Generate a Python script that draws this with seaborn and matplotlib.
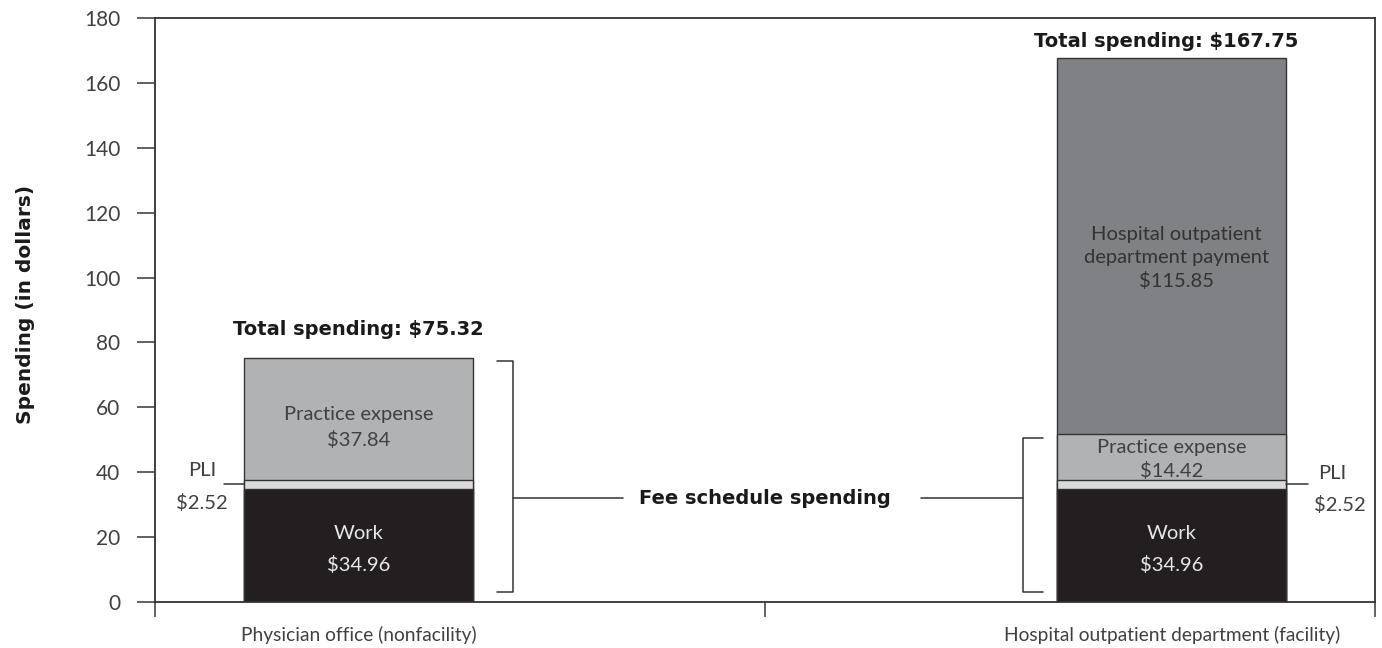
import pandas as pd
import matplotlib.pyplot as plt
import seaborn as sns

categories = ["Physician office (nonfacility)", "Hospital outpatient department (facility)"]
work = [34.96, 34.96]
pli = [2.52, 2.52]
practice = [37.84, 14.42]
hospital = [0.0, 115.85]
yticks = [0, 20, 40, 60, 80, 100, 120, 140, 160, 180]

segments = ["Work", "PLI", "Practice expense", "Hospital outpatient\ndepartment payment"]
seg_colors = ["#231f20", "#d9dadb", "#b1b2b4", "#808184"]

df = pd.DataFrame({"category": categories, "Work": work, "PLI": pli,
                   "Practice expense": practice,
                   "Hospital outpatient\ndepartment payment": hospital})
tops = df[segments].cumsum(axis=1)
totals = tops[segments[-1]]

sns.set_style("ticks")
plt.rcParams["font.family"] = ["Lato", "DejaVu Sans"]
dark = "#333333"
soft = "#404040"
heavy = dict(family="DejaVu Sans", fontweight="bold", color="#1a1a1a", fontsize=14)

fig = plt.figure(figsize=(13.82, 6.48), dpi=100)
ax = fig.add_axes([155 / 1382, 46 / 648, 1220 / 1382, 584 / 648])

# stacked bars: draw cumulative heights from the top segment down
for seg, col in reversed(list(zip(segments, seg_colors))):
    keep = df[seg] > 0
    sns.barplot(x=df.loc[keep, "category"], y=tops.loc[keep, seg], order=categories,
                color=col, saturation=1, width=0.281, edgecolor=dark, linewidth=1,
                errorbar=None, ax=ax)

ax.set_xlim(-0.25, 1.25)
ax.set_ylim(0, 180)
ax.set_yticks(yticks)
ax.set_yticklabels([str(t) for t in yticks], fontsize=15, color=soft)
ax.set_xticks([0, 1])
ax.set_xticklabels(categories, fontsize=13.8, color=soft)
ax.set_xticks([-0.25, 0.5, 1.25], minor=True)
ax.tick_params(axis="x", which="major", length=0, pad=17)
ax.tick_params(axis="x", which="minor", length=11, width=1.3, color="#555555")
ax.tick_params(axis="y", length=13, width=1.3, color="#555555", pad=12)
ax.set_xlabel("")
ax.set_ylabel("Spending (in dollars)", **{**heavy, "fontsize": 14.5})
ax.yaxis.set_label_coords(-0.106, 0.51)
ax.yaxis.label.set_verticalalignment("center")
for s in ax.spines.values():
    s.set_color(dark)
    s.set_linewidth(1.3)

# labels inside the bars
def seg_label(i, seg, value, color, ls, dy=-1.0, dx=0.0):
    mid = tops.loc[i, seg] - value / 2 + dy
    ax.text(i + dx, mid, f"{seg}\n${value:.2f}", ha="center", va="center", fontsize=14.5,
            color=color, linespacing=ls)

seg_label(0, "Work", work[0], "#e8e8e8", 1.92, dy=-1.3)
seg_label(1, "Work", work[1], "#e8e8e8", 1.92, dy=-1.3)
seg_label(0, "Practice expense", practice[0], soft, 1.54, dy=-2.6)
seg_label(1, "Practice expense", practice[1], soft, 1.35, dy=-0.8)
seg_label(1, "Hospital outpatient\ndepartment payment", hospital[1], "#333333", 1.41,
          dy=-3.8, dx=0.006)

# PLI callouts
pli_mid0 = tops.loc[0, "PLI"] - pli[0] / 2
ax.plot([-0.165, -0.1405], [pli_mid0, pli_mid0], color=dark, lw=1.1)
ax.text(-0.192, pli_mid0 + 4.3, "PLI", ha="center", va="center", fontsize=14.5, color=soft)
ax.text(-0.192, pli_mid0 - 5.6, f"${pli[0]:.2f}", ha="center", va="center", fontsize=14.5, color=soft)
pli_mid1 = tops.loc[1, "PLI"] - pli[1] / 2
ax.plot([1.1405, 1.168], [pli_mid1, pli_mid1], color=dark, lw=1.1)
ax.text(1.198, pli_mid1 + 3.3, "PLI", ha="center", va="center", fontsize=14.5, color=soft)
ax.text(1.207, pli_mid1 - 6.2, f"${pli[1]:.2f}", ha="center", va="center", fontsize=14.5, color=soft)

# totals
ax.text(0.0, 84.0, f"Total spending: ${totals[0]:.2f}", ha="center", va="center", **heavy)
ax.text(0.993, 172.8, f"Total spending: ${totals[1]:.2f}", ha="center", va="center", **heavy)

# fee schedule brackets
ax.plot([0.170, 0.1906, 0.1906, 0.170], [74.3, 74.3, 3.1, 3.1], color=dark, lw=1.1)
ax.plot([0.1906, 0.326], [32, 32], color=dark, lw=1.1)
ax.plot([0.842, 0.817, 0.817, 0.842], [50.5, 50.5, 3.1, 3.1], color=dark, lw=1.1)
ax.plot([0.6915, 0.817], [32, 32], color=dark, lw=1.1)
ax.text(0.5, 32, "Fee schedule spending", ha="center", va="center", **heavy)

fig.savefig("out.png", dpi=100)
